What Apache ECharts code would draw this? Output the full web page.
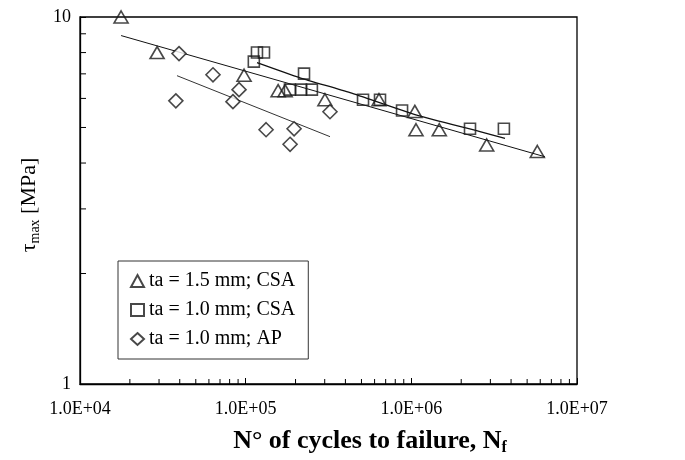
<!DOCTYPE html>
<html>
<head>
<meta charset="utf-8">
<script src="https://cdn.jsdelivr.net/npm/echarts@6/dist/echarts.min.js"></script>
<style>
html, body { margin: 0; padding: 0; background: #fff; }
#main { width: 685px; height: 460px; }
</style>
</head>
<body>
<div id="main"></div>
<script>
// data (cycles to failure, tau max in MPa)
var triCycles = [17700, 29200, 97800, 157000, 173000, 301000, 638000, 1050000, 1067000, 1475000, 2850000, 5760000];
var triTau = [10.0, 8.0, 6.94, 6.30, 6.30, 5.95, 5.95, 5.53, 4.93, 4.93, 4.48, 4.30];

var sqCycles = [112000, 117000, 129000, 225000, 185000, 216000, 251000, 511000, 647000, 879000, 2260000, 3620000];
var sqTau = [7.56, 8.0, 8.0, 7.01, 6.34, 6.34, 6.34, 5.95, 5.95, 5.56, 4.96, 4.96];

var apCycles = [39600, 63500, 37900, 91200, 83800, 132800, 196000, 185400, 322800];
var apTau = [7.95, 6.96, 5.91, 6.34, 5.88, 4.93, 4.96, 4.50, 5.52];

// trend lines
var triFitCycles = [17700, 6410000];
var triFitTau = [8.90, 4.16];
var sqFitCycles = [117100, 212800, 426600, 1052000, 2597000, 3676000];
var sqFitTau = [7.51, 6.83, 6.22, 5.42, 4.87, 4.67];
var apFitCycles = [38500, 323000];
var apFitTau = [6.92, 4.72];

var seriesNames = ['ta = 1.5 mm; CSA', 'ta = 1.0 mm; CSA', 'ta = 1.0 mm; AP'];
var xTickLabels = ['1.0E+04', '1.0E+05', '1.0E+06', '1.0E+07'];
var yTickLabels = ['1', '10'];

function pairs(xs, ys) {
	var out = [];
	for (var i = 0; i < xs.length; i++) {
		out.push([xs[i], ys[i]]);
	}
	return out;
}

// minor tick positions (2..9 in every decade)
var xMinor = [];
for (var d = 4; d < 7; d++) {
	for (var k = 2; k < 10; k++) {
		xMinor.push([k * Math.pow(10, d), 1]);
	}
}
var yMinor = [];
for (var k = 2; k < 10; k++) {
	yMinor.push([10000, k]);
}

var serif = '"Liberation Serif", "DejaVu Serif", serif';
var ink = '#1a1a1a';

var myChart = echarts.init(document.getElementById('main'));

var option = {
	animation: false,
	grid: {
		left: 80,
		right: 108,
		top: 17,
		bottom: 76,
		show: true,
		borderColor: '#000',
		borderWidth: 1.3
	},
	legend: {
		orient: 'vertical',
		left: 118,
		top: 261,
		padding: [10, 13, 10, 12],
		itemGap: 9,
		itemWidth: 13,
		itemHeight: 12,
		borderColor: '#333',
		borderWidth: 1,
		textStyle: {fontFamily: serif, fontSize: 20, color: '#000'},
		data: [
			{name: seriesNames[0], icon: 'triangle'},
			{name: seriesNames[1], icon: 'rect'},
			{name: seriesNames[2], icon: 'diamond'}
		]
	},
	xAxis: {
		type: 'log',
		logBase: 10,
		min: 10000,
		max: 10000000,
		axisLine: {lineStyle: {color: '#000', width: 1.3}},
		axisTick: {inside: true, length: 6, lineStyle: {color: '#000'}},
		splitLine: {show: false},
		axisLabel: {
			fontFamily: serif,
			fontSize: 18,
			color: '#000',
			margin: 16,
			formatter: function (value) {
				return xTickLabels[Math.round(Math.log10(value)) - 4];
			}
		}
	},
	yAxis: {
		type: 'log',
		logBase: 10,
		min: 1,
		max: 10,
		axisLine: {lineStyle: {color: '#000', width: 1.3}},
		axisTick: {inside: true, length: 6, lineStyle: {color: '#000'}},
		splitLine: {show: false},
		axisLabel: {
			fontFamily: serif,
			fontSize: 18,
			color: '#000',
			margin: 9,
			formatter: function (value) {
				return yTickLabels[Math.round(Math.log10(value))];
			}
		}
	},
	graphic: [
		{
			type: 'text',
			x: 29,
			y: 205,
			rotation: Math.PI / 2,
			style: {
				text: '{t|τ}{s|max}{t| [MPa]}',
				align: 'center',
				verticalAlign: 'middle',
				fill: '#000',
				rich: {
					t: {fontFamily: serif, fontSize: 22, fill: '#000'},
					s: {fontFamily: serif, fontSize: 14, fill: '#000', padding: [13, 0, 0, 0]}
				}
			}
		},
		{
			type: 'text',
			x: 370,
			y: 441,
			style: {
				text: '{t|N° of cycles to failure, N}{s|f}',
				align: 'center',
				verticalAlign: 'middle',
				fill: '#000',
				rich: {
					t: {fontFamily: serif, fontSize: 26, fontWeight: 'bold', fill: '#000'},
					s: {fontFamily: serif, fontSize: 16, fontWeight: 'bold', fill: '#000', padding: [14, 0, 0, 0]}
				}
			}
		}
	],
	series: [
		{
			name: 'triFit',
			type: 'line',
			data: pairs(triFitCycles, triFitTau),
			symbol: 'none',
			lineStyle: {color: '#111', width: 1},
			z: 1,
			silent: true
		},
		{
			name: 'sqFit',
			type: 'line',
			data: pairs(sqFitCycles, sqFitTau),
			symbol: 'none',
			smooth: 0.2,
			lineStyle: {color: '#111', width: 1.3},
			z: 1,
			silent: true
		},
		{
			name: 'apFit',
			type: 'line',
			data: pairs(apFitCycles, apFitTau),
			symbol: 'none',
			lineStyle: {color: '#333', width: 1},
			z: 1,
			silent: true
		},
		{
			name: seriesNames[0],
			type: 'scatter',
			data: pairs(triCycles, triTau),
			symbol: 'triangle',
			symbolSize: [14, 12],
			clip: false,
			itemStyle: {color: 'transparent', borderColor: ink, borderWidth: 1.6},
			z: 3
		},
		{
			name: seriesNames[1],
			type: 'scatter',
			data: pairs(sqCycles, sqTau),
			symbol: 'rect',
			symbolSize: 11,
			clip: false,
			itemStyle: {color: 'transparent', borderColor: ink, borderWidth: 1.6},
			z: 3
		},
		{
			name: seriesNames[2],
			type: 'scatter',
			data: pairs(apCycles, apTau),
			symbol: 'diamond',
			symbolSize: 14,
			clip: false,
			itemStyle: {color: '#fff', borderColor: ink, borderWidth: 1.6},
			z: 3
		},
		{
			name: 'xMinorTicks',
			type: 'custom',
			data: xMinor,
			silent: true,
			z: 4,
			renderItem: function (params, api) {
				var p = api.coord([api.value(0), api.value(1)]);
				return {
					type: 'line',
					shape: {x1: p[0], y1: p[1], x2: p[0], y2: p[1] - 5},
					style: {stroke: '#000', lineWidth: 1}
				};
			}
		},
		{
			name: 'yMinorTicks',
			type: 'custom',
			data: yMinor,
			silent: true,
			z: 4,
			renderItem: function (params, api) {
				var p = api.coord([api.value(0), api.value(1)]);
				return {
					type: 'line',
					shape: {x1: p[0], y1: p[1], x2: p[0] + 6, y2: p[1]},
					style: {stroke: '#000', lineWidth: 1}
				};
			}
		}
	]
};

myChart.setOption(option);
</script>
</body>
</html>
